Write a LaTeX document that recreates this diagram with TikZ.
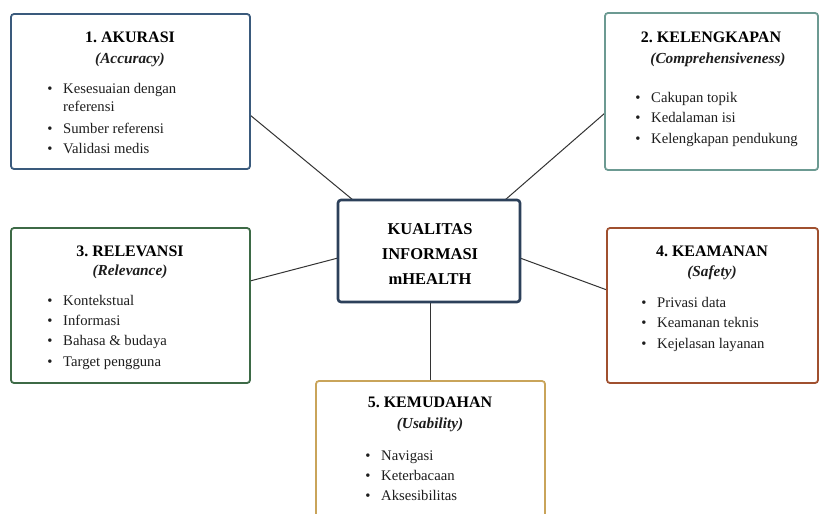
\documentclass[tikz,border=0pt]{standalone}
\usepackage{fontspec}
\setmainfont{Liberation Serif}
\usetikzlibrary{calc}
\frenchspacing
\definecolor{cone}{HTML}{3A5A7C}
\definecolor{ctwo}{HTML}{6C9A92}
\definecolor{cmid}{HTML}{2C405A}
\definecolor{cthree}{HTML}{3D6A46}
\definecolor{cfour}{HTML}{A0502F}
\definecolor{cfive}{HTML}{C9A45A}
\definecolor{ctext}{HTML}{1E1E1E}
\definecolor{cline}{HTML}{333333}
\newcommand\bul[4]{%
  \node[itemtext, anchor=base] (#1b) at (#2,#3+5) {\textbullet};
  \node[itemtext, anchor=base west] (#1) at (#2+13,#3+5) {#4};}
\begin{document}
\begin{tikzpicture}[x=1pt,y=-1pt,
  box/.style={draw, rounded corners=3pt, line width=1.8pt, fill=white, inner sep=0pt},
  ttl/.style={font=\fontsize{16}{18}\selectfont\bfseries, text=black, inner sep=0pt},
  sub/.style={font=\fontsize{15.3}{17}\selectfont\bfseries\itshape, text=ctext, inner sep=0pt},
  itemtext/.style={font=\fontsize{14.7}{17}\selectfont, text=ctext, inner sep=0pt},
  conn/.style={draw=cline, line width=1pt}]
\clip (0,0) rectangle (820,514);
\fill[white] (0,0) rectangle (820,514);

% connectors
\coordinate (p1) at (250,115);
\coordinate (q1) at (353,200);
\coordinate (p2) at (605,113);
\coordinate (q2) at (505,200);
\coordinate (p3) at (250,281);
\coordinate (q3) at (338,258);
\coordinate (p4) at (607,290);
\coordinate (q4) at (520,258);
\coordinate (p5) at (430,381);
\coordinate (q5) at (430,302);
\draw[conn] (p1) -- (q1);
\draw[conn] (p2) -- (q2);
\draw[conn] (p3) -- (q3);
\draw[conn] (p4) -- (q4);
\draw[conn] (p5) -- (q5);

% boxes
\node[box, draw=cone, minimum width=239, minimum height=155] (b1) at (130.5,91.5) {};
\node[box, draw=ctwo, minimum width=213, minimum height=157] (b2) at (711.5,91.5) {};
\node[box, draw=cmid, line width=2.6pt, minimum width=182, minimum height=102] (bc) at (429,251) {};
\node[box, draw=cthree, minimum width=239, minimum height=155] (b3) at (130.5,305.5) {};
\node[box, draw=cfour, minimum width=211, minimum height=155] (b4) at (712.5,305.5) {};
\node[box, draw=cfive, minimum width=229, minimum height=150] (b5) at (430.5,456) {};

% center text
\node[font=\fontsize{16.5}{25}\selectfont\bfseries, align=center, text=black, inner sep=0pt] (ct) at (430,254) {KUALITAS\\INFORMASI\\mHEALTH};

% box 1
\node[ttl] (t1) at (130,37) {1. AKURASI};
\node[sub] (s1) at (130,60) {(Accuracy)};
\bul{a1}{50}{88}{Kesesuaian dengan}
\node[itemtext, anchor=base west] (a1c) at (63,111) {referensi};
\bul{a2}{50}{128}{Sumber referensi}
\bul{a3}{50}{148}{Validasi medis}

% box 2
\node[ttl] (t2) at (711,37) {2. KELENGKAPAN};
\node[sub] (s2) at (718,60) {(Comprehensiveness)};
\bul{k1}{638}{97}{Cakupan topik}
\bul{k2}{638}{117}{Kedalaman isi}
\bul{k3}{638}{138}{Kelengkapan pendukung}

% box 3
\node[ttl] (t3) at (130,251) {3. RELEVANSI};
\node[sub] (s3) at (130,272) {(Relevance)};
\bul{r1}{50}{300}{Kontekstual}
\bul{r2}{50}{320}{Informasi}
\bul{r3}{50}{340}{Bahasa \& budaya}
\bul{r4}{50}{361}{Target pengguna}

% box 4
\node[ttl] (t4) at (712,251) {4. KEAMANAN};
\node[sub] (s4) at (712,273) {(Safety)};
\bul{m1}{644}{302}{Privasi data}
\bul{m2}{644}{322}{Keamanan teknis}
\bul{m3}{644}{343}{Kejelasan layanan}

% box 5
\node[ttl] (t5) at (430,402) {5. KEMUDAHAN};
\node[sub] (s5) at (430,425) {(Usability)};
\bul{u1}{368}{455}{Navigasi}
\bul{u2}{368}{475}{Keterbacaan}
\bul{u3}{368}{495}{Aksesibilitas}
\end{tikzpicture}
\end{document}
